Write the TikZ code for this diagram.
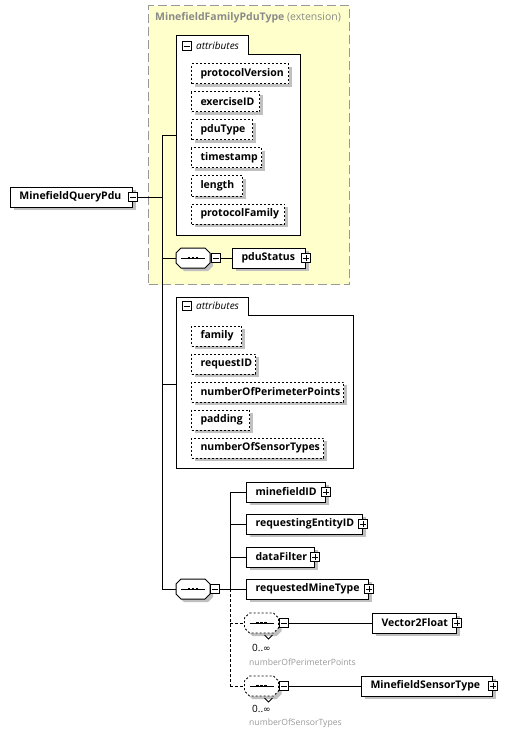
\documentclass[tikz,border=0pt]{standalone}
\usepackage{fontspec}
\setmainfont{Open Sans}
\newfontfamily\symfont{DejaVu Sans}
\usetikzlibrary{shadows}
\definecolor{ylw}{HTML}{FFFFCC}
\definecolor{shdc}{HTML}{C0C0C0}
\definecolor{ttlc}{HTML}{8A8A8A}
\definecolor{dshc}{HTML}{999999}
\definecolor{lblc}{HTML}{9A9A9A}
\tikzset{
  shd/.style={drop shadow={shadow xshift=3pt,shadow yshift=-3pt,fill=shdc,opacity=1}},
  elem/.style={draw, fill=white, shd, line width=1pt, minimum height=20pt,
    inner xsep=9pt, inner ysep=0pt, anchor=west, align=left, text width=#1,
    font=\fontsize{10.5}{12}\selectfont\bfseries},
  attr/.style={elem=#1, dash pattern=on 2pt off 2pt},
  pmbox/.style={draw, fill=white, line width=0.8pt, minimum size=9pt, inner sep=0pt},
  minus/.style={pmbox, path picture={\draw[line width=0.8pt]
     ([xshift=-3pt]path picture bounding box.center) -- ([xshift=3pt]path picture bounding box.center);}},
  plus/.style={pmbox, path picture={\draw[line width=0.8pt]
     ([xshift=-3pt]path picture bounding box.center) -- ([xshift=3pt]path picture bounding box.center)
     ([yshift=-3pt]path picture bounding box.center) -- ([yshift=3pt]path picture bounding box.center);}},
  conn/.style={line width=1pt},
  dconn/.style={line width=1pt, dash pattern=on 3pt off 2pt},
  grp/.style={draw, line width=1pt, fill=white},
  hold/.style={inner sep=0pt, minimum width=34pt, minimum height=20pt},
}
\newcommand\octo{(-12,-10) -- (12,-10) -- (17,-5) -- (17,5) -- (12,10) -- (-12,10) -- (-17,5) -- (-17,-5) -- cycle}
\newcommand\seqdots{%
  \draw[line width=1pt] (-12,0) -- (12,0);
  \fill (-4,0) +(-1.2,-1.3) rectangle +(1.2,1.3);
  \fill (0,0) +(-1.2,-1.3) rectangle +(1.2,1.3);
  \fill (4,0) +(-1.2,-1.3) rectangle +(1.2,1.3);}
\newcommand\seqbox[3]{%
  \node[hold] (#1) at (#2,#3) {};
  \begin{scope}[shift={(#2,#3)}]
    \fill[shdc, shift={(3,3)}] \octo;
    \draw[line width=1pt, fill=white] \octo;
    \seqdots
  \end{scope}}
\newcommand\repbox[3]{%
  \node[hold] (#1) at (#2,#3) {};
  \begin{scope}[shift={(#2,#3)}]
    \fill[shdc, shift={(3,3)}] \octo;
    \draw[line width=0.8pt, fill=white, dash pattern=on 2pt off 2pt] \octo;
    \draw[line width=0.8pt] (3,12) -- (7,16) -- (11,12);
    \seqdots
  \end{scope}}
\begin{document}
\begin{tikzpicture}[x=1pt,y=-1pt]
\useasboundingbox (0,0) rectangle (514,738);
\fill[white] (0,0) rectangle (514,738);

% extension box
\node[draw=dshc, fill=ylw, line width=1.2pt, dash pattern=on 9pt off 4pt,
  minimum width=201pt, minimum height=279pt, anchor=north west, inner sep=0pt] (ext) at (148,5) {};
\node[anchor=west, inner sep=0pt, text=ttlc, font=\fontsize{10.5}{12}\selectfont] (ttl) at (155,18)
  {\textbf{MinefieldFamilyPduType} (extension)};

% root element
\node[elem=104pt] (qpdu) at (10,197) {MinefieldQueryPdu};
\node[minus] (qpdum) at (qpdu.east) {};

% attribute group 1
\node[inner sep=0pt, minimum width=124pt, minimum height=180pt, anchor=north west] (g1) at (176,55) {};
\draw[grp] (176,36) -- (248,36) -- (248,55) -- (300,55) -- (300,235) -- (176,235) -- cycle;
\node[minus, line width=0.7pt] (g1m) at (186.5,46) {};
\node[anchor=west, inner sep=0pt, font=\fontsize{10}{12}\selectfont\itshape] (g1t) at (196,46) {attributes};
\node[attr=79pt] (a1) at (191,74) {protocolVersion};
\node[attr=50pt] (a2) at (191,102) {exerciseID};
\node[attr=43pt] (a3) at (191,130) {pduType};
\node[attr=52pt] (a4) at (191,158) {timestamp};
\node[attr=33pt] (a5) at (191,186) {length};
\node[attr=75pt] (a6) at (191,214) {protocolFamily};

% sequence 1
\seqbox{s1}{193}{258}
\node[minus] (s1m) at (216,258) {};
\node[elem=55pt] (pdu) at (232,258) {pduStatus};
\node[plus] (pdup) at (pdu.east) {};

% attribute group 2
\node[inner sep=0pt, minimum width=177pt, minimum height=153pt, anchor=north west] (g2) at (176,315) {};
\draw[grp] (176,297) -- (248,297) -- (248,315) -- (353,315) -- (353,468) -- (176,468) -- cycle;
\node[minus, line width=0.7pt] (g2m) at (186.5,306) {};
\node[anchor=west, inner sep=0pt, font=\fontsize{10}{12}\selectfont\itshape] (g2t) at (196,306) {attributes};
\node[attr=32pt] (b1) at (191,336) {family};
\node[attr=46pt] (b2) at (191,364) {requestID};
\node[attr=134pt] (b3) at (191,392) {numberOfPerimeterPoints};
\node[attr=40pt] (b4) at (191,420) {padding};
\node[attr=114pt] (b5) at (191,448) {numberOfSensorTypes};

% sequence 2
\seqbox{s2}{193}{589}
\node[minus] (s2m) at (215,589) {};
\node[elem=61pt] (mid) at (246,492) {minefieldID};
\node[plus] (midp) at (mid.east) {};
\node[elem=98pt] (reqe) at (246,524) {requestingEntityID};
\node[plus] (reqep) at (reqe.east) {};
\node[elem=50pt] (df) at (246,557) {dataFilter};
\node[plus] (dfp) at (df.east) {};
\node[elem=104pt] (rmt) at (246,589) {requestedMineType};
\node[plus] (rmtp) at (rmt.east) {};

% repeating sequences
\repbox{s3}{261.5}{623}
\node[minus] (s3m) at (284,623) {};
\node[elem=66pt] (v2f) at (372,623) {Vector2Float};
\node[plus] (v2fp) at (v2f.east) {};
\node[anchor=west, inner sep=0pt, font=\fontsize{10}{11}\selectfont] (s3c) at (252,648) {0..{\symfont\fontsize{9}{11}\selectfont ∞}};
\node[anchor=west, inner sep=0pt, text=lblc, font=\fontsize{8.6}{10}\selectfont] (s3l) at (249,662) {numberOfPerimeterPoints};

\repbox{s4}{261.5}{686}
\node[minus] (s4m) at (284,686) {};
\node[elem=113pt] (mst) at (361,686) {MinefieldSensorType};
\node[plus] (mstp) at (mst.east) {};
\node[anchor=west, inner sep=0pt, font=\fontsize{10}{11}\selectfont] (s4c) at (252,709) {0..{\symfont\fontsize{9}{11}\selectfont ∞}};
\node[anchor=west, inner sep=0pt, text=lblc, font=\fontsize{8.6}{10}\selectfont] (s4l) at (249,723) {numberOfSensorTypes};

% junctions
\coordinate (j0) at (162,197);
\coordinate (jt) at (162,136);
\coordinate (jg2) at (162,384);
\coordinate (js1) at (162,258);
\coordinate (jb) at (162,589);
\coordinate (k0) at (230,589);
\coordinate (kt) at (230,492);
\coordinate (kb) at (230,686);

% connectors
\draw[conn] (qpdum.east) -- (j0);
\draw[conn] (jt) -- (jb);
\draw[conn] (jt) -- (jt -| g1.west);
\draw[conn] (jg2) -- (jg2 -| g2.west);
\draw[conn] (js1) -- (s1.west);
\draw[conn] (s1m.east) -- (pdu.west);
\draw[conn] (jb) -- (s2.west);
\draw[conn] (s2m.east) -- (k0);
\draw[conn] (kt) -- (k0);
\draw[conn] (kt) -- (mid.west);
\draw[conn] (reqe.west -| k0) -- (reqe.west);
\draw[conn] (df.west -| k0) -- (df.west);
\draw[conn] (k0) -- (rmt.west);
\draw[dconn] (k0) -- (kb);
\draw[dconn] (s3.west -| k0) -- (s3.west);
\draw[dconn] (kb) -- (s4.west);
\draw[conn] (s3m.east) -- (v2f.west);
\draw[conn] (s4m.east) -- (mst.west);
\end{tikzpicture}
\end{document}
